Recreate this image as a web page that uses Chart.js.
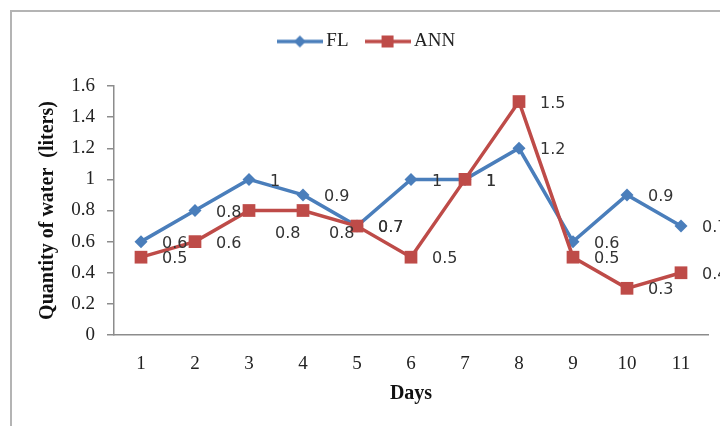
<!DOCTYPE html>
<html>
<head>
<meta charset="utf-8">
<script src="https://cdn.jsdelivr.net/npm/chart.js@4/dist/chart.umd.min.js"></script>
<style>
  html, body { margin: 0; padding: 0; background: #fff; }
  #wrap { position: relative; width: 720px; height: 426px; overflow: hidden; }
  #frame {
    position: absolute; left: 10px; top: 10px; width: 760px; height: 460px;
    border-left: 2px solid #b4b4b4; border-top: 2px solid #b4b4b4;
  }
  #chart { position: absolute; left: 0; top: 0; }
</style>
</head>
<body>
<div id="wrap">
  <div id="frame"></div>
  <canvas id="chart" width="720" height="426"></canvas>
</div>
<script>
const days = ["1", "2", "3", "4", "5", "6", "7", "8", "9", "10", "11"];
const flValues = [0.6, 0.8, 1, 0.9, 0.7, 1, 1, 1.2, 0.6, 0.9, 0.7];
const annValues = [0.5, 0.6, 0.8, 0.8, 0.7, 0.5, 1, 1.5, 0.5, 0.3, 0.4];
const yTickLabels = ["0", "0.2", "0.4", "0.6", "0.8", "1", "1.2", "1.4", "1.6"];

const FL_COLOR = "#4a7ebb";
const ANN_COLOR = "#be4b48";
const AXIS_COLOR = "#8c8c8c";
const SERIF = "'Liberation Serif', 'Times New Roman', serif";

function swatch(color, shape) {
  const c = document.createElement("canvas");
  c.width = 46;
  c.height = 16;
  const g = c.getContext("2d");
  g.strokeStyle = color;
  g.lineWidth = 3.5;
  g.beginPath();
  g.moveTo(0, 8);
  g.lineTo(46, 8);
  g.stroke();
  g.fillStyle = color;
  if (shape === "diamond") {
    g.beginPath();
    g.moveTo(23, 2);
    g.lineTo(29, 8);
    g.lineTo(23, 14);
    g.lineTo(17, 8);
    g.closePath();
    g.fill();
  } else {
    g.fillRect(17, 2, 12, 12);
  }
  return c;
}
const swatches = [swatch(FL_COLOR, "diamond"), swatch(ANN_COLOR, "square")];

// value labels to the right of each marker, like the spreadsheet's
const valueLabels = {
  id: "valueLabels",
  afterDatasetsDraw(chart, _args, opts) {
    const ctx = chart.ctx;
    ctx.save();
    ctx.font = opts.font;
    ctx.fillStyle = opts.color;
    ctx.textAlign = "left";
    ctx.textBaseline = "middle";
    chart.data.datasets.forEach((ds, di) => {
      const meta = chart.getDatasetMeta(di);
      meta.data.forEach((pt, i) => {
        const nudge = (opts.nudge[di] && opts.nudge[di][i]) || [0, 0];
        ctx.fillText(String(ds.data[i]), pt.x + 21 + nudge[0], pt.y + 2 + nudge[1]);
      });
    });
    ctx.restore();
  },
};

// keep the plot area top where the original has it
const legendSpace = {
  id: "legendSpace",
  beforeInit(chart) {
    const legend = chart.legend;
    const fit = legend.fit;
    legend.fit = function () {
      fit.call(this);
      this.height = 76;
    };
  },
};

new Chart(document.getElementById("chart"), {
  type: "line",
  data: {
    labels: days,
    datasets: [
      {
        label: "FL",
        data: flValues,
        borderColor: FL_COLOR,
        backgroundColor: FL_COLOR,
        borderWidth: 3.5,
        pointStyle: "rectRot",
        pointRadius: 6.5,
        pointBorderWidth: 0,
        tension: 0,
        order: 1,
      },
      {
        label: "ANN",
        data: annValues,
        borderColor: ANN_COLOR,
        backgroundColor: ANN_COLOR,
        borderWidth: 3.5,
        pointStyle: "rect",
        pointRadius: 9,
        pointBorderWidth: 0,
        tension: 0,
        order: 0,
      },
    ],
  },
  options: {
    responsive: false,
    animation: false,
    layout: { padding: { left: 30, top: 10, right: 12, bottom: 0 } },
    plugins: {
      tooltip: { enabled: false },
      legend: {
        position: "top",
        labels: {
          usePointStyle: true,
          pointStyleWidth: 34,
          padding: 22,
          color: "#222",
          font: { family: SERIF, size: 19 },
          generateLabels(chart) {
            const items = Chart.defaults.plugins.legend.labels.generateLabels(chart);
            items.sort((a, b) => a.datasetIndex - b.datasetIndex);
            items.forEach((it) => { it.pointStyle = swatches[it.datasetIndex]; });
            return items;
          },
        },
      },
      valueLabels: {
        font: "16px 'DejaVu Sans', sans-serif",
        color: "#333",
        nudge: { 1: { 2: [5, 21], 3: [5, 21] } },
      },
    },
    scales: {
      x: {
        offset: true,
        grid: { display: false, drawTicks: false },
        border: { display: true, color: AXIS_COLOR, width: 1.5 },
        ticks: { color: "#222", padding: 18, font: { family: SERIF, size: 19 } },
        title: {
          display: true,
          text: "Days",
          color: "#111",
          padding: { top: 0, bottom: 20 },
          font: { family: SERIF, size: 20, weight: "bold" },
        },
        afterFit(scale) { scale.height = 91; },
      },
      y: {
        min: 0,
        max: 1.6,
        grid: { drawOnChartArea: false, drawTicks: true, tickLength: 7, color: AXIS_COLOR, lineWidth: 1.5 },
        border: { display: true, color: AXIS_COLOR, width: 1.5 },
        ticks: {
          stepSize: 0.2,
          padding: 12,
          color: "#222",
          font: { family: SERIF, size: 19 },
          callback: (v, i) => yTickLabels[i],
        },
        title: {
          display: true,
          text: "Quantity of water  (liters)",
          color: "#111",
          padding: { top: 6, bottom: 0 },
          font: { family: SERIF, size: 20, weight: "bold" },
        },
        afterFit(scale) { scale.width = 84; },
      },
    },
  },
  plugins: [valueLabels, legendSpace],
});
</script>
</body>
</html>
